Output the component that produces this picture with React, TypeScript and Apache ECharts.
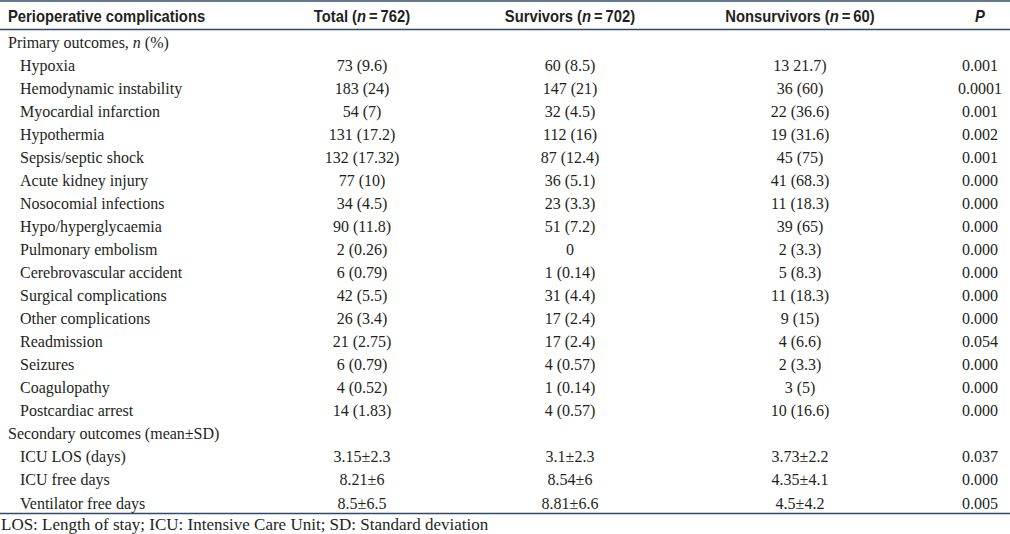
import React, { useEffect, useRef } from "react";
import * as echarts from "echarts";

const headers = ["Perioperative complications", "Total (n\u2009=\u2009762)", "Survivors (n\u2009=\u2009702)", "Nonsurvivors (n\u2009=\u200960)", "P"];

const rowLabels = [
  "Primary outcomes, n (%)",
  "Hypoxia",
  "Hemodynamic instability",
  "Myocardial infarction",
  "Hypothermia",
  "Sepsis/septic shock",
  "Acute kidney injury",
  "Nosocomial infections",
  "Hypo/hyperglycaemia",
  "Pulmonary embolism",
  "Cerebrovascular accident",
  "Surgical complications",
  "Other complications",
  "Readmission",
  "Seizures",
  "Coagulopathy",
  "Postcardiac arrest",
  "Secondary outcomes (mean\u00b1SD)",
  "ICU LOS (days)",
  "ICU free days",
  "Ventilator free days",
];

const isSection = [true, false, false, false, false, false, false, false, false, false, false, false, false, false, false, false, false, true, false, false, false];

const totalCol = ["", "73 (9.6)", "183 (24)", "54 (7)", "131 (17.2)", "132 (17.32)", "77 (10)", "34 (4.5)", "90 (11.8)", "2 (0.26)", "6 (0.79)", "42 (5.5)", "26 (3.4)", "21 (2.75)", "6 (0.79)", "4 (0.52)", "14 (1.83)", "", "3.15\u00b12.3", "8.21\u00b16", "8.5\u00b16.5"];
const survivorsCol = ["", "60 (8.5)", "147 (21)", "32 (4.5)", "112 (16)", "87 (12.4)", "36 (5.1)", "23 (3.3)", "51 (7.2)", "0", "1 (0.14)", "31 (4.4)", "17 (2.4)", "17 (2.4)", "4 (0.57)", "1 (0.14)", "4 (0.57)", "", "3.1\u00b12.3", "8.54\u00b16", "8.81\u00b16.6"];
const nonsurvivorsCol = ["", "13 21.7)", "36 (60)", "22 (36.6)", "19 (31.6)", "45 (75)", "41 (68.3)", "11 (18.3)", "39 (65)", "2 (3.3)", "5 (8.3)", "11 (18.3)", "9 (15)", "4 (6.6)", "2 (3.3)", "3 (5)", "10 (16.6)", "", "3.73\u00b12.2", "4.35\u00b14.1", "4.5\u00b14.2"];
const pCol = ["", "0.001", "0.0001", "0.001", "0.002", "0.001", "0.000", "0.000", "0.000", "0.000", "0.000", "0.000", "0.000", "0.054", "0.000", "0.000", "0.000", "", "0.037", "0.000", "0.005"];

const footnote = "LOS: Length of stay; ICU: Intensive Care Unit; SD: Standard deviation";

const SERIF = "'Liberation Serif', 'Times New Roman', serif";
const NARROW = "'Liberation Sans Narrow', 'Arial Narrow', 'Liberation Sans', sans-serif";
const TEXT = "#231f20";
const RULE = "#2e4a6e";

export default function App() {
  const ref = useRef<HTMLDivElement>(null);
  useEffect(() => {
    if (!ref.current) return;
    const chart = echarts.init(ref.current, undefined, { renderer: "svg" });
    const colX = [8, 362, 570, 800, 980];
    const HS = 0.87;
    const els: any[] = [];
    // rules
    els.push({ type: "line", shape: { x1: 0, y1: 1, x2: 1010, y2: 1 }, style: { stroke: RULE, lineWidth: 1.5 } });
    els.push({ type: "line", shape: { x1: 0, y1: 29.5, x2: 1010, y2: 29.5 }, style: { stroke: RULE, lineWidth: 1.5 } });
    els.push({ type: "line", shape: { x1: 0, y1: 513.5, x2: 1010, y2: 513.5 }, style: { stroke: RULE, lineWidth: 1.5 } });
    // headers
    headers.forEach((h, i) => {
      if (i === 0 || i === 4) {
        els.push({
          type: "text",
          x: colX[i],
          y: 16,
          scaleX: HS,
          style: {
            text: h,
            fill: TEXT,
            font: `${i === 4 ? "italic " : ""}bold 17px ${NARROW}`,
            align: i === 0 ? "left" : "center",
            verticalAlign: "middle",
          },
        });
      } else {
        const idx = h.indexOf("(n");
        const pre = h.slice(0, idx + 1);
        const post = h.slice(idx + 2);
        els.push({
          type: "text",
          x: colX[i],
          y: 16,
          scaleX: HS,
          style: {
            text: `{a|${pre}}{b|n}{a|${post}}`,
            align: "center",
            verticalAlign: "middle",
            rich: {
              a: { fill: TEXT, font: `bold 17px ${NARROW}` },
              b: { fill: TEXT, font: `italic bold 17px ${NARROW}` },
            },
          },
        });
      }
    });
    // rows
    rowLabels.forEach((lab, r) => {
      const y = 42 + r * 23.05;
      if (r === 0) {
        els.push({
          type: "text",
          x: colX[0],
          y,
          style: {
            text: "{a|Primary outcomes, }{b|n}{a| (%)}",
            align: "left",
            verticalAlign: "middle",
            rich: {
              a: { fill: TEXT, font: `16px ${SERIF}` },
              b: { fill: TEXT, font: `italic 16px ${SERIF}` },
            },
          },
        });
      } else {
        els.push({
          type: "text",
          x: isSection[r] ? colX[0] : 20,
          y,
          style: { text: lab, fill: TEXT, font: `16px ${SERIF}`, align: "left", verticalAlign: "middle" },
        });
      }
      [totalCol, survivorsCol, nonsurvivorsCol, pCol].forEach((col, c) => {
        if (!col[r]) return;
        els.push({
          type: "text",
          x: colX[c + 1],
          y,
          style: { text: col[r], fill: TEXT, font: `16px ${SERIF}`, align: "center", verticalAlign: "middle" },
        });
      });
    });
    els.push({
      type: "text",
      x: 1,
      y: 524,
      style: { text: footnote, fill: TEXT, font: `17px ${SERIF}`, align: "left", verticalAlign: "middle" },
    });
    chart.setOption({
      animation: false,
      backgroundColor: "#ffffff",
      graphic: { elements: els },
    });
    return () => chart.dispose();
  }, []);
  return <div ref={ref} style={{ position: "fixed", left: 0, top: 0, width: 1010, height: 534, background: "#fff" }} />;
}
